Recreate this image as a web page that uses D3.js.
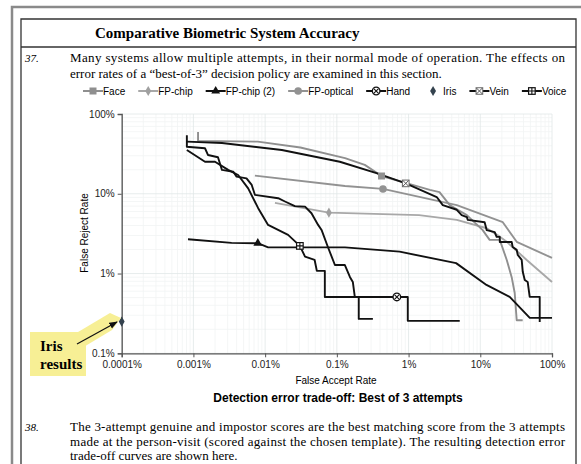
<!DOCTYPE html>
<html lang="en">
<head>
	<meta charset="UTF-8">
	<title>Detection error trade-off: Best of 3 attempts</title>
	<script src="https://d3js.org/d3.v7.min.js"></script>
	<style>
		body { margin: 0; background: #fff; }
	</style>
</head>
<body>
	<svg width="581" height="464"></svg>
	<script>

		// values: [false accept %, false reject %]
		var face = [[0.00116,59.5],[0.00116,46],[0.0079,45],[0.031,38],[0.13,28],[0.245,23],[0.42,16.7],[0.91,13.7],[1.98,11.2],[2.7,10.5],[3.75,7.2],[4.85,6.3],[6.5,5.4],[10.8,3.5],[13.5,2.64],[18.7,2.64],[23.4,1.48],[27.4,0.9],[30.2,0.57],[32.2,0.26],[39,0.26]];
		var fpChip = [[0.0137,7.7],[0.0775,5.8],[1.4,5.4],[4.7,4.7],[12.3,3.7],[18.7,2.9],[23.4,2.5],[44.4,1.48],[100,0.785]];
		var fpChip2 = [[0.00084,2.69],[0.0034,2.42],[0.0079,2.4],[0.011,2.13],[0.13,2.13],[0.75,1.88],[4.6,1.35],[12.2,0.72],[25.7,0.51],[49,0.278],[100,0.278]];
		var fpOptical = [[0.0072,16.9],[0.13,12.5],[0.44,11.5],[4.7,7.2],[20.6,4.4],[32.2,2.5],[100,1.57]];
		var hand = [[0.00081,54],[0.00081,38.9],[0.00145,37.2],[0.0016,30.6],[0.0022,28.7],[0.0025,19.9],[0.0036,18.9],[0.004,16.4],[0.0055,15.6],[0.0065,12.9],[0.0072,9.7],[0.0152,8.8],[0.0189,8.0],[0.026,7.0],[0.036,6.9],[0.0443,5.7],[0.0548,4.07],[0.0612,3.52],[0.075,2.15],[0.094,1.28],[0.129,1.28],[0.152,0.906],[0.167,0.785],[0.178,0.509],[0.975,0.509],[0.975,0.255],[5.17,0.255]];
		var iris = [[0.0001,0.25]];
		var vein = [[0.00081,45],[0.0025,43.3],[0.0171,35.4],[0.11,25.2],[0.357,18.1],[0.914,13.5],[2.47,9.1],[3.0,7.2],[4.7,6.3],[5.5,5.4],[6.5,5.1],[6.7,4.7],[11.5,4.4],[12.3,3.5],[15.9,3.3],[16.9,2.88],[18.7,2.88],[18.7,2.49],[27.4,2.49],[28.3,2.15],[32.2,1.98],[33.3,1.71],[37.8,1.48],[39.1,1.05],[41.7,0.83],[45.8,0.785],[48.9,0.51],[67.4,0.51],[67.4,0.247]];
		var voice = [[0.00081,35.4],[0.00145,25.2],[0.002,25.2],[0.00305,19.9],[0.0042,17.2],[0.0058,11.7],[0.008,6.6],[0.011,4.07],[0.0209,3.05],[0.0305,2.22],[0.036,1.63],[0.049,1.48],[0.0526,1.08],[0.068,1.08],[0.068,0.509],[0.202,0.509],[0.202,0.27],[0.318,0.27]];

		// one marker per series, sitting on its curve
		var markerPoints = [["Face",0.42,16.7],["FP-chip",0.0775,5.8],["FP-chip (2)",0.0079,2.4],["FP-optical",0.44,11.5],["Hand",0.686,0.509],["Iris",0.0001,0.25],["Vein",0.914,13.5],["Voice",0.0305,2.22]];

		var seriesNames = ["Face","FP-chip","FP-chip (2)","FP-optical","Hand","Iris","Vein","Voice"];
		var xTicks = [0.0001,0.001,0.01,0.1,1,10,100];
		var xTickLabels = ["0.0001%","0.001%","0.01%","0.1%","1%","10%","100%"];
		var yTicks = [0.1,1,10,100];
		var yTickLabels = ["0.1%","1%","10%","100%"];

		var series = {"Face": face, "FP-chip": fpChip, "FP-chip (2)": fpChip2, "FP-optical": fpOptical,
			"Hand": hand, "Iris": iris, "Vein": vein, "Voice": voice};

		var styles = {
			"Face":        {line: "#8f8f8f", shape: "square"},
			"FP-chip":     {line: "#a8a8a8", shape: "diamond"},
			"FP-chip (2)": {line: "#111",    shape: "triangle"},
			"FP-optical":  {line: "#929292", shape: "circle"},
			"Hand":        {line: "#111",    shape: "circlex"},
			"Iris":        {line: "none",    shape: "iris"},
			"Vein":        {line: "#111",    shape: "squarex"},
			"Voice":       {line: "#111",    shape: "squareplus"}
		};

		var serif = "'Liberation Serif', 'Times New Roman', serif";
		var sans = "'Liberation Sans', Arial, sans-serif";

		var svg = d3.select("svg");

		// page frame
		svg.append("path")
			.attr("d", "M12,464 V7 H581")
			.attr("fill", "none").attr("stroke", "#8a8a8a").attr("stroke-width", 2.5);
		svg.append("path")
			.attr("d", "M21,464 V19 H576 V464")
			.attr("fill", "none").attr("stroke", "#333").attr("stroke-width", 1.3);
		svg.append("line")
			.attr("x1", 21).attr("x2", 576).attr("y1", 47).attr("y2", 47)
			.attr("stroke", "#333").attr("stroke-width", 1.3);

		svg.append("text")
			.attr("x", 95).attr("y", 38)
			.style("font-family", serif).style("font-weight", "bold").style("font-size", "15px")
			.text("Comparative Biometric System Accuracy");

		function paragraph(num, lines, y0, step) {
			svg.append("text")
				.attr("x", 25).attr("y", y0)
				.style("font-family", serif).style("font-style", "italic").style("font-size", "11px")
				.text(num);
			lines.forEach(function(l, i) {
				var t = svg.append("text")
					.attr("x", 70).attr("y", y0 + i * step)
					.style("font-family", serif).style("font-size", "13px")
					.text(l);
				if (i < lines.length - 1) t.attr("textLength", 495).attr("lengthAdjust", "spacing");
			});
		}

		paragraph("37.", ["Many systems allow multiple attempts, in their normal mode of operation. The effects on",
			"error rates of a \u201cbest-of-3\u201d decision policy are examined in this section."], 62, 15.5);
		paragraph("38.", ["The 3-attempt genuine and impostor scores are the best matching score from the 3 attempts",
			"made at the person-visit (scored against the chosen template). The resulting detection error",
			"trade-off curves are shown here."], 431, 14.5);

		// chart
		var x = d3.scaleLog().domain([0.0001, 100]).range([121.7, 552]);
		var y = d3.scaleLog().domain([0.1, 100]).range([353.3, 114]);

		var grid = svg.append("g");
		var minorX = [], minorY = [];
		xTicks.slice(0, -1).forEach(function(t) { for (var k = 2; k < 10; k++) minorX.push(t * k); });
		yTicks.slice(0, -1).forEach(function(t) { for (var k = 2; k < 10; k++) minorY.push(t * k); });

		grid.selectAll(".mx").data(minorX).enter().append("line")
			.attr("x1", function(d) { return x(d); }).attr("x2", function(d) { return x(d); })
			.attr("y1", y(100)).attr("y2", y(0.1))
			.attr("stroke", "#f1f4f4").attr("stroke-width", 0.8);
		grid.selectAll(".my").data(minorY).enter().append("line")
			.attr("x1", x(0.0001)).attr("x2", x(100))
			.attr("y1", function(d) { return y(d); }).attr("y2", function(d) { return y(d); })
			.attr("stroke", "#f1f4f4").attr("stroke-width", 0.8);
		grid.selectAll(".gx").data(xTicks).enter().append("line")
			.attr("x1", function(d) { return x(d); }).attr("x2", function(d) { return x(d); })
			.attr("y1", y(100)).attr("y2", y(0.1))
			.attr("stroke", "#e1e7e7").attr("stroke-width", 0.8);
		grid.selectAll(".gy").data(yTicks).enter().append("line")
			.attr("x1", x(0.0001)).attr("x2", x(100))
			.attr("y1", function(d) { return y(d); }).attr("y2", function(d) { return y(d); })
			.attr("stroke", "#e1e7e7").attr("stroke-width", 0.8);

		// axes
		var xAxis = svg.append("g")
			.attr("transform", "translate(0," + y(0.1) + ")")
			.call(d3.axisBottom(x).tickValues(xTicks).tickSize(4).tickPadding(4)
				.tickFormat(function(d, i) { return xTickLabels[i]; }));
		var yAxis = svg.append("g")
			.attr("transform", "translate(" + x(0.0001) + ",0)")
			.call(d3.axisLeft(y).tickValues(yTicks).tickSize(4).tickPadding(3)
				.tickFormat(function(d, i) { return yTickLabels[i]; }));
		[xAxis, yAxis].forEach(function(a) {
			a.select(".domain").attr("stroke", "#555").attr("stroke-width", 1.3);
			a.selectAll(".tick line").attr("stroke", "#555");
			a.selectAll("text").style("font-family", sans).style("font-size", "10px").attr("fill", "#222");
		});

		svg.append("text")
			.attr("transform", "translate(88,233) rotate(-90)")
			.attr("text-anchor", "middle")
			.style("font-family", sans).style("font-size", "10px")
			.text("False Reject Rate");
		svg.append("text")
			.attr("x", 336).attr("y", 384)
			.attr("text-anchor", "middle")
			.style("font-family", sans).style("font-size", "10px")
			.text("False Accept Rate");
		svg.append("text")
			.attr("x", 338).attr("y", 402)
			.attr("text-anchor", "middle")
			.style("font-family", sans).style("font-weight", "bold").style("font-size", "12px")
			.text("Detection error trade-off: Best of 3 attempts");

		// curves
		var line = d3.line()
			.x(function(d) { return x(d[0]); })
			.y(function(d) { return y(d[1]); });

		var drawOrder = ["FP-chip","FP-optical","Face","FP-chip (2)","Voice","Hand","Vein"];
		drawOrder.forEach(function(name) {
			svg.append("path")
				.datum(series[name])
				.attr("d", line)
				.attr("fill", "none")
				.attr("stroke", styles[name].line)
				.attr("stroke-width", 1.9)
				.attr("stroke-linejoin", "round");
		});

		function drawMarker(g, name, cx, cy) {
			var s = styles[name].shape;
			if (s == "square") {
				g.append("rect").attr("x", cx - 3.5).attr("y", cy - 3.5).attr("width", 7).attr("height", 7)
					.attr("fill", "#8f8f8f");
			} else if (s == "diamond") {
				g.append("path").attr("d", d3.symbol(d3.symbolDiamond, 30)()).attr("transform", "translate(" + cx + "," + cy + ")")
					.attr("fill", "#a0a0a0");
			} else if (s == "triangle") {
				g.append("path").attr("d", d3.symbol(d3.symbolTriangle, 34)()).attr("transform", "translate(" + cx + "," + cy + ")")
					.attr("fill", "#111");
			} else if (s == "circle") {
				g.append("circle").attr("cx", cx).attr("cy", cy).attr("r", 3.8).attr("fill", "#929292");
			} else if (s == "circlex") {
				g.append("circle").attr("cx", cx).attr("cy", cy).attr("r", 3.8).attr("fill", "#fff").attr("stroke", "#111").attr("stroke-width", 1.3);
				g.append("path").attr("d", "M" + (cx - 2.4) + "," + (cy - 2.4) + "L" + (cx + 2.4) + "," + (cy + 2.4) + "M" + (cx - 2.4) + "," + (cy + 2.4) + "L" + (cx + 2.4) + "," + (cy - 2.4))
					.attr("stroke", "#111").attr("stroke-width", 1.1);
			} else if (s == "iris") {
				g.append("path").attr("d", d3.symbol(d3.symbolDiamond, 30)()).attr("transform", "translate(" + cx + "," + cy + ")")
					.attr("fill", "#34424e");
			} else if (s == "squarex") {
				g.append("rect").attr("x", cx - 3.3).attr("y", cy - 3.3).attr("width", 6.6).attr("height", 6.6)
					.attr("fill", "#fff").attr("stroke", "#777").attr("stroke-width", 1.1);
				g.append("path").attr("d", "M" + (cx - 3) + "," + (cy - 3) + "L" + (cx + 3) + "," + (cy + 3) + "M" + (cx - 3) + "," + (cy + 3) + "L" + (cx + 3) + "," + (cy - 3))
					.attr("stroke", "#555").attr("stroke-width", 1);
			} else if (s == "squareplus") {
				g.append("rect").attr("x", cx - 3.3).attr("y", cy - 3.3).attr("width", 6.6).attr("height", 6.6)
					.attr("fill", "#fff").attr("stroke", "#111").attr("stroke-width", 1.2);
				g.append("path").attr("d", "M" + (cx - 3.3) + "," + cy + "H" + (cx + 3.3) + "M" + cx + "," + (cy - 3.3) + "V" + (cy + 3.3))
					.attr("stroke", "#111").attr("stroke-width", 1.1);
			}
		}

		var markers = svg.append("g");
		markerPoints.forEach(function(m) {
			drawMarker(markers, m[0], x(m[1]), y(m[2]));
		});

		// legend
		var legend = svg.append("g");
		var lx = 83, ly = 91;
		seriesNames.forEach(function(name) {
			var g = legend.append("g");
			if (styles[name].line != "none") {
				g.append("line").attr("x1", lx).attr("x2", lx + 20).attr("y1", ly).attr("y2", ly)
					.attr("stroke", styles[name].line).attr("stroke-width", 2);
			}
			drawMarker(g, name, lx + 10, ly);
			var t = g.append("text")
				.attr("x", lx + 20).attr("y", ly + 3.5)
				.style("font-family", sans).style("font-size", "10px")
				.text(name);
			lx += 20 + t.node().getComputedTextLength() + 13;
		});

		// "Iris results" highlight
		var note = svg.append("g");
		note.append("path")
			.attr("d", "M68,338 L110,313 L121,318 L112,330 L82,348 Z")
			.attr("fill", "#f7ef95");
		note.append("rect")
			.attr("x", 30).attr("y", 332).attr("width", 56).attr("height", 44)
			.attr("fill", "#f7ef95");
		svg.append("defs").append("marker")
			.attr("id", "arrow").attr("viewBox", "0 0 10 10").attr("refX", 9).attr("refY", 5)
			.attr("markerWidth", 7).attr("markerHeight", 7).attr("orient", "auto")
			.append("path").attr("d", "M0,1 L10,5 L0,9 Z").attr("fill", "#111");
		note.append("line")
			.attr("x1", 77).attr("y1", 344).attr("x2", 117).attr("y2", 322)
			.attr("stroke", "#111").attr("stroke-width", 1.2)
			.attr("marker-end", "url(#arrow)");
		note.append("text").attr("x", 40).attr("y", 351)
			.style("font-family", serif).style("font-weight", "bold").style("font-size", "15px")
			.text("Iris");
		note.append("text").attr("x", 40).attr("y", 369)
			.style("font-family", serif).style("font-weight", "bold").style("font-size", "15px")
			.text("results");

	</script>
</body>
</html>
